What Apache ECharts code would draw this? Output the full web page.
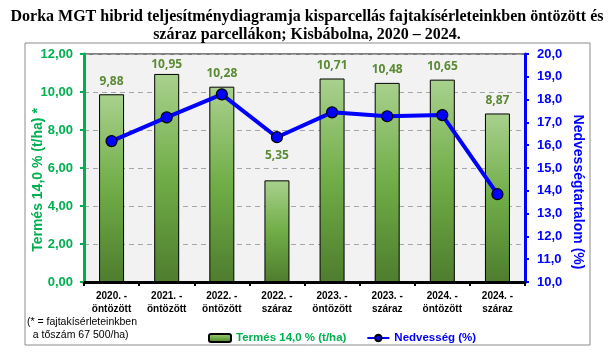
<!DOCTYPE html>
<html><head><meta charset="utf-8">
<script src="https://cdn.jsdelivr.net/npm/echarts@6/dist/echarts.min.js"></script>
<style>html,body{margin:0;padding:0;background:#fff}#c{width:614px;height:357px}</style>
</head><body><div id="c"></div>
<script>
const categories = ['2020. -\nöntözött','2021. -\nöntözött','2022. -\nöntözött','2022. -\nszáraz','2023. -\nöntözött','2023. -\nszáraz','2024. -\nöntözött','2024. -\nszáraz'];
const yieldValues = [9.88, 10.95, 10.28, 5.35, 10.71, 10.48, 10.65, 8.87];
const moistureValues = [16.18, 17.22, 18.23, 16.35, 17.44, 17.27, 17.32, 13.85];
const leftTicks = {min: 0, max: 12, interval: 2};
const rightTicks = {min: 10, max: 20, interval: 1};
const titleLines = ['Dorka MGT hibrid teljesítménydiagramja kisparcellás fajtakísérleteinkben öntözött és', 'száraz parcellákon; Kisbábolna, 2020 – 2024.'];
const footnote = ['(* = fajtakísérleteinkben', '  a tőszám 67 500/ha)'];
const seriesNames = ['Termés 14,0 % (t/ha)', 'Nedvesség (%)'];
const axisNames = ['Termés 14,0 % (t/ha) *', 'Nedvességtartalom (%)'];

const green = '#00b050', blue = '#0000ff';
const chart = echarts.init(document.getElementById('c'), null, {renderer: 'canvas'});
const barGrad = new echarts.graphic.LinearGradient(0,0,0,1,[{offset:0,color:'#a9d18e'},{offset:0.5,color:'#70ad47'},{offset:1,color:'#4e7d2e'}]);
// label placement tweaks (style only), as in the original chart
const labelDistance = i => (i === 1 ? 3 : i === 3 ? 19 : 7);
const barData = yieldValues.map((v, i) => ({value: v, label: {distance: labelDistance(i)}}));
chart.setOption({
  animation: false,
  backgroundColor: '#fff',
  title: {
    text: titleLines.join('\n'), left: 'center', top: 3,
    textStyle: {fontFamily: 'Liberation Serif', fontWeight: 'bold', fontSize: 16, lineHeight: 18, color: '#000'}
  },
  grid: {left: 84, right: 89, top: 54, bottom: 75, show: true, backgroundColor: '#f2f2f2', borderColor: '#000', borderWidth: 1},
  legend: {
    top: 327, left: 203, itemGap: 20, itemWidth: 22, itemHeight: 8,
    data: [
      {name: seriesNames[0], textStyle: {color: green}},
      {name: seriesNames[1], textStyle: {color: blue}}
    ],
    textStyle: {fontFamily: 'Liberation Sans', fontWeight: 'bold', fontSize: 11.5}
  },
  xAxis: {
    type: 'category', data: categories,
    axisLine: {lineStyle: {color: '#000', width: 3}},
    axisTick: {show: true, length: 4, lineStyle: {color: '#000', width: 2}},
    axisLabel: {fontFamily: 'Liberation Sans', fontWeight: 'bold', fontSize: 10, color: '#000', lineHeight: 13, margin: 8, interval: 0}
  },
  yAxis: [
    {
      type: 'value', min: leftTicks.min, max: leftTicks.max, interval: leftTicks.interval, position: 'left',
      axisLine: {show: true, lineStyle: {color: green, width: 3}},
      axisTick: {show: true, length: 4, lineStyle: {color: green, width: 2}},
      axisLabel: {color: green, fontFamily: 'Liberation Sans', fontWeight: 'bold', fontSize: 13, margin: 11,
        formatter: v => v.toFixed(2).replace('.', ',')},
      splitLine: {show: true, lineStyle: {color: '#a6a6a6', type: [5, 4], width: 1}}
    },
    {
      type: 'value', min: rightTicks.min, max: rightTicks.max, interval: rightTicks.interval, position: 'right',
      axisLine: {show: true, lineStyle: {color: blue, width: 3}},
      axisTick: {show: true, length: 4, lineStyle: {color: blue, width: 2}},
      axisLabel: {color: blue, fontFamily: 'Liberation Sans', fontWeight: 'bold', fontSize: 13, margin: 12,
        formatter: v => v.toFixed(1).replace('.', ',')},
      splitLine: {show: false}
    }
  ],
  series: [
    {
      name: seriesNames[0], type: 'bar', yAxisIndex: 0, data: barData, barWidth: 25,
      itemStyle: {color: barGrad, borderColor: '#000', borderWidth: 1},
      label: {show: true, position: 'top', distance: 7, color: '#5a8a34', fontFamily: 'Open Sans', fontWeight: 'bold', fontSize: 12,
        formatter: p => p.value.toFixed(2).replace('.', ',')},
      z: 2
    },
    {
      name: seriesNames[1], type: 'line', yAxisIndex: 1, data: moistureValues,
      lineStyle: {color: blue, width: 4},
      symbol: 'circle', symbolSize: 11,
      itemStyle: {color: blue, borderColor: '#000', borderWidth: 1.2},
      z: 5
    }
  ],
  graphic: [
    {type: 'rect', shape: {x: 25, y: 43, width: 565, height: 302}, style: {fill: 'none', stroke: '#8c8c8c', lineWidth: 1}, z: -1, silent: true},
    {type: 'text', left: 27, top: 316, style: {text: footnote.join('\n'), fontFamily: 'Liberation Sans', fontSize: 10.5, lineHeight: 13, fill: '#000'}},
    {type: 'text', x: 38, y: 180, rotation: Math.PI / 2, style: {text: axisNames[0], fontFamily: 'Liberation Sans', fontWeight: 'bold', fontSize: 14, fill: green, align: 'center', verticalAlign: 'middle'}},
    {type: 'text', x: 578, y: 192, rotation: -Math.PI / 2, style: {text: axisNames[1], fontFamily: 'Liberation Sans', fontWeight: 'bold', fontSize: 14, fill: blue, align: 'center', verticalAlign: 'middle'}}
  ]
});
</script></body></html>
